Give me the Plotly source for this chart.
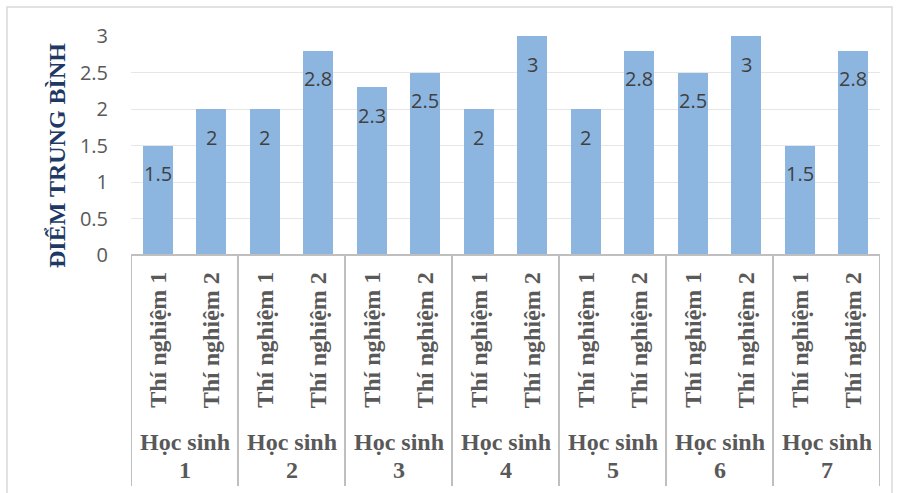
import plotly.graph_objects as go

groups = ["Học sinh 1", "Học sinh 2", "Học sinh 3", "Học sinh 4", "Học sinh 5", "Học sinh 6", "Học sinh 7"]
group_names = ["Học sinh", "Học sinh", "Học sinh", "Học sinh", "Học sinh", "Học sinh", "Học sinh"]
group_nums = ["1", "2", "3", "4", "5", "6", "7"]
sub_labels = ["Thí nghiệm 1", "Thí nghiệm 2"]
values = [1.5, 2, 2, 2.8, 2.3, 2.5, 2, 3, 2, 2.8, 2.5, 3, 1.5, 2.8]
y_ticks = [0, 0.5, 1, 1.5, 2, 2.5, 3]
y_title = "ĐIỂM TRUNG BÌNH"

W, H = 897, 493
L, R, T, B = 131, 17, 36, 238
pw, ph = W - L - R, H - T - B

def py(px_y):
    return (H - B - px_y) / ph

def px(px_x):
    return (px_x - L) / pw

n = len(values)
xs = [i + 0.5 for i in range(n)]

fig = go.Figure()
fig.add_trace(go.Bar(
    x=xs, y=values, width=0.56,
    marker=dict(color="#8CB6E0", line=dict(width=0)),
    hoverinfo="skip",
))

serif = "Liberation Serif, Times New Roman, serif"
sans = "Open Sans, Liberation Sans, sans-serif"

annotations = []
# data labels
for x, v in zip(xs, values):
    annotations.append(dict(x=x, y=v, xref="x", yref="y", text=f"{v:g}",
                            showarrow=False, yshift=-28,
                            xanchor="center", yanchor="middle",
                            font=dict(family=sans, size=20, color="#404040")))
# sub category labels
for i, x in enumerate(xs):
    annotations.append(dict(x=x, y=py(340), xref="x", yref="paper",
                            text="<b>" + sub_labels[i % 2] + "</b>", textangle=-90,
                            showarrow=False, xanchor="center", yanchor="middle",
                            font=dict(family=serif, size=24, color="#595959")))
# group labels
for g in range(len(groups)):
    annotations.append(dict(x=2 * g + 1, y=py(442), xref="x", yref="paper",
                            text="<b>" + group_names[g] + "</b>", showarrow=False,
                            xanchor="center", yanchor="middle",
                            font=dict(family=serif, size=24, color="#595959")))
    annotations.append(dict(x=2 * g + 1, y=py(470), xref="x", yref="paper",
                            text="<b>" + group_nums[g] + "</b>", showarrow=False,
                            xanchor="center", yanchor="middle",
                            font=dict(family=serif, size=24, color="#595959")))

# y title
annotations.append(dict(x=px(57), y=py(156), xref="paper", yref="paper",
                        text="<b>" + y_title + "</b>", textangle=-90, showarrow=False,
                        xanchor="center", yanchor="middle",
                        font=dict(family=serif, size=24, color="#203864")))

shapes = []
for k in range(0, n + 1, 2):
    shapes.append(dict(type="line", xref="x", yref="paper", x0=k, x1=k,
                       y0=0, y1=py(486), line=dict(color="#BFBFBF", width=2)))
shapes.append(dict(type="line", xref="x", yref="paper", x0=0, x1=n,
                   y0=0, y1=0, line=dict(color="#BFBFBF", width=2)))
shapes.append(dict(type="rect", xref="paper", yref="paper",
                   x0=px(7), x1=px(892), y0=py(7), y1=py(500),
                   line=dict(color="#D9D9D9", width=1.5)))

fig.update_layout(
    width=W, height=H,
    margin=dict(l=L, r=R, t=T, b=B),
    paper_bgcolor="white", plot_bgcolor="white",
    showlegend=False, bargap=0,
    annotations=annotations, shapes=shapes,
    xaxis=dict(range=[0, n], showticklabels=False, showgrid=False,
               zeroline=False, showline=False, fixedrange=True),
    yaxis=dict(range=[0, 3], tickvals=y_ticks, ticktext=[f"{t:g}" for t in y_ticks],
               showgrid=True, gridcolor="#E6E6E6", gridwidth=1,
               zeroline=False, showline=False, ticks="",
               ticklabelstandoff=22, fixedrange=True,
               tickfont=dict(family=sans, size=20, color="#595959")),
)

fig.write_html("out.html", config={"displayModeBar": False},
               post_script="document.body.style.margin='0';")
